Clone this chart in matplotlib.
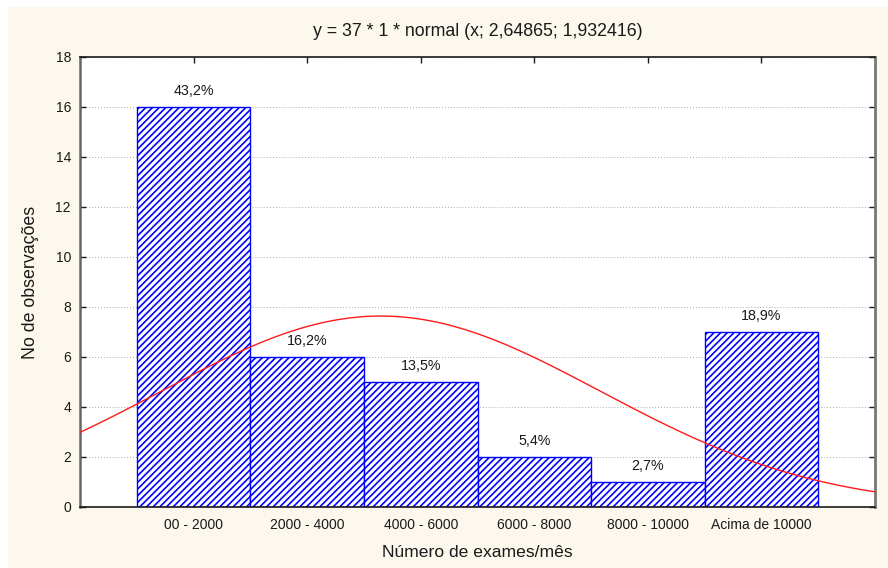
import numpy as np
import matplotlib
matplotlib.use('Agg')
from matplotlib import pyplot as plt
from matplotlib.patches import Rectangle

plt.rcParams['font.family'] = ['Liberation Sans', 'DejaVu Sans']
plt.rcParams['hatch.linewidth'] = 1.2

categories = ['00 - 2000', '2000 - 4000', '4000 - 6000', '6000 - 8000',
              '8000 - 10000', 'Acima de 10000']
counts = [16, 6, 5, 2, 1, 7]

# fitted normal: y = n * width * normal(x; mean, sd)
n_obs = 37
bin_width = 1
mean = 2.64865
sd = 1.932416

bg = '#fdf8ee'
fig = plt.figure(figsize=(8.88, 5.68), dpi=100, facecolor='white')
fig.patches.append(Rectangle((8 / 888, 0), 1, 1 - 7 / 568,
                             transform=fig.transFigure, facecolor=bg,
                             edgecolor='none', zorder=-10))
ax = fig.add_axes([80 / 888, 1 - 507 / 568, 795 / 888, 450 / 568])
ax.set_facecolor('white')

x = np.arange(1, len(counts) + 1)
ax.bar(x, counts, width=1, facecolor='white', edgecolor='#0000ff',
       hatch='/////', linewidth=1.0, zorder=2)

for xi, c in zip(x, counts):
    pct = '{:.1f}%'.format(100 * c / n_obs).replace('.', ',')
    ax.text(xi, c + 0.35, pct, ha='center', va='bottom', fontsize=10.3,
            color='#1a1a1a', zorder=4)

xs = np.linspace(0, 7, 400)
ys = n_obs * bin_width * np.exp(-0.5 * ((xs - mean) / sd) ** 2) / (sd * np.sqrt(2 * np.pi))
ax.plot(xs, ys, color='#ff1a1a', linewidth=1.0, zorder=3)

ax.set_xlim(0, 7)
ax.set_ylim(0, 18)
ax.set_yticks(np.arange(0, 19, 2))
ax.set_xticks(x)
ax.set_xticklabels(categories)
ax.yaxis.grid(True, linestyle=(0, (1, 2)), color='#aaaaaa', linewidth=0.7)
ax.set_axisbelow(True)
ax.tick_params(direction='in', top=True, right=True, length=4, width=1,
               labelsize=10, colors='#1a1a1a', pad=8)
ax.tick_params(axis='y', pad=6.5)
for side in ['bottom', 'top']:
    ax.spines[side].set_color('#1a1a1a')
    ax.spines[side].set_linewidth(1.2)
ax.spines['left'].set_color('#666666')
ax.spines['left'].set_linewidth(1.8)
ax.spines['right'].set_color('#777777')
ax.spines['right'].set_linewidth(2)

ax.set_title('y = 37 * 1 * normal (x; 2,64865; 1,932416)', fontsize=12.8,
             color='#1a1a1a', pad=15)
ax.set_xlabel('Número de exames/mês', fontsize=12.6, color='#1a1a1a', labelpad=9)
ax.set_ylabel('No de observações', fontsize=12.8, color='#1a1a1a', labelpad=12)

fig.savefig('out.png', dpi=100, facecolor=fig.get_facecolor())
